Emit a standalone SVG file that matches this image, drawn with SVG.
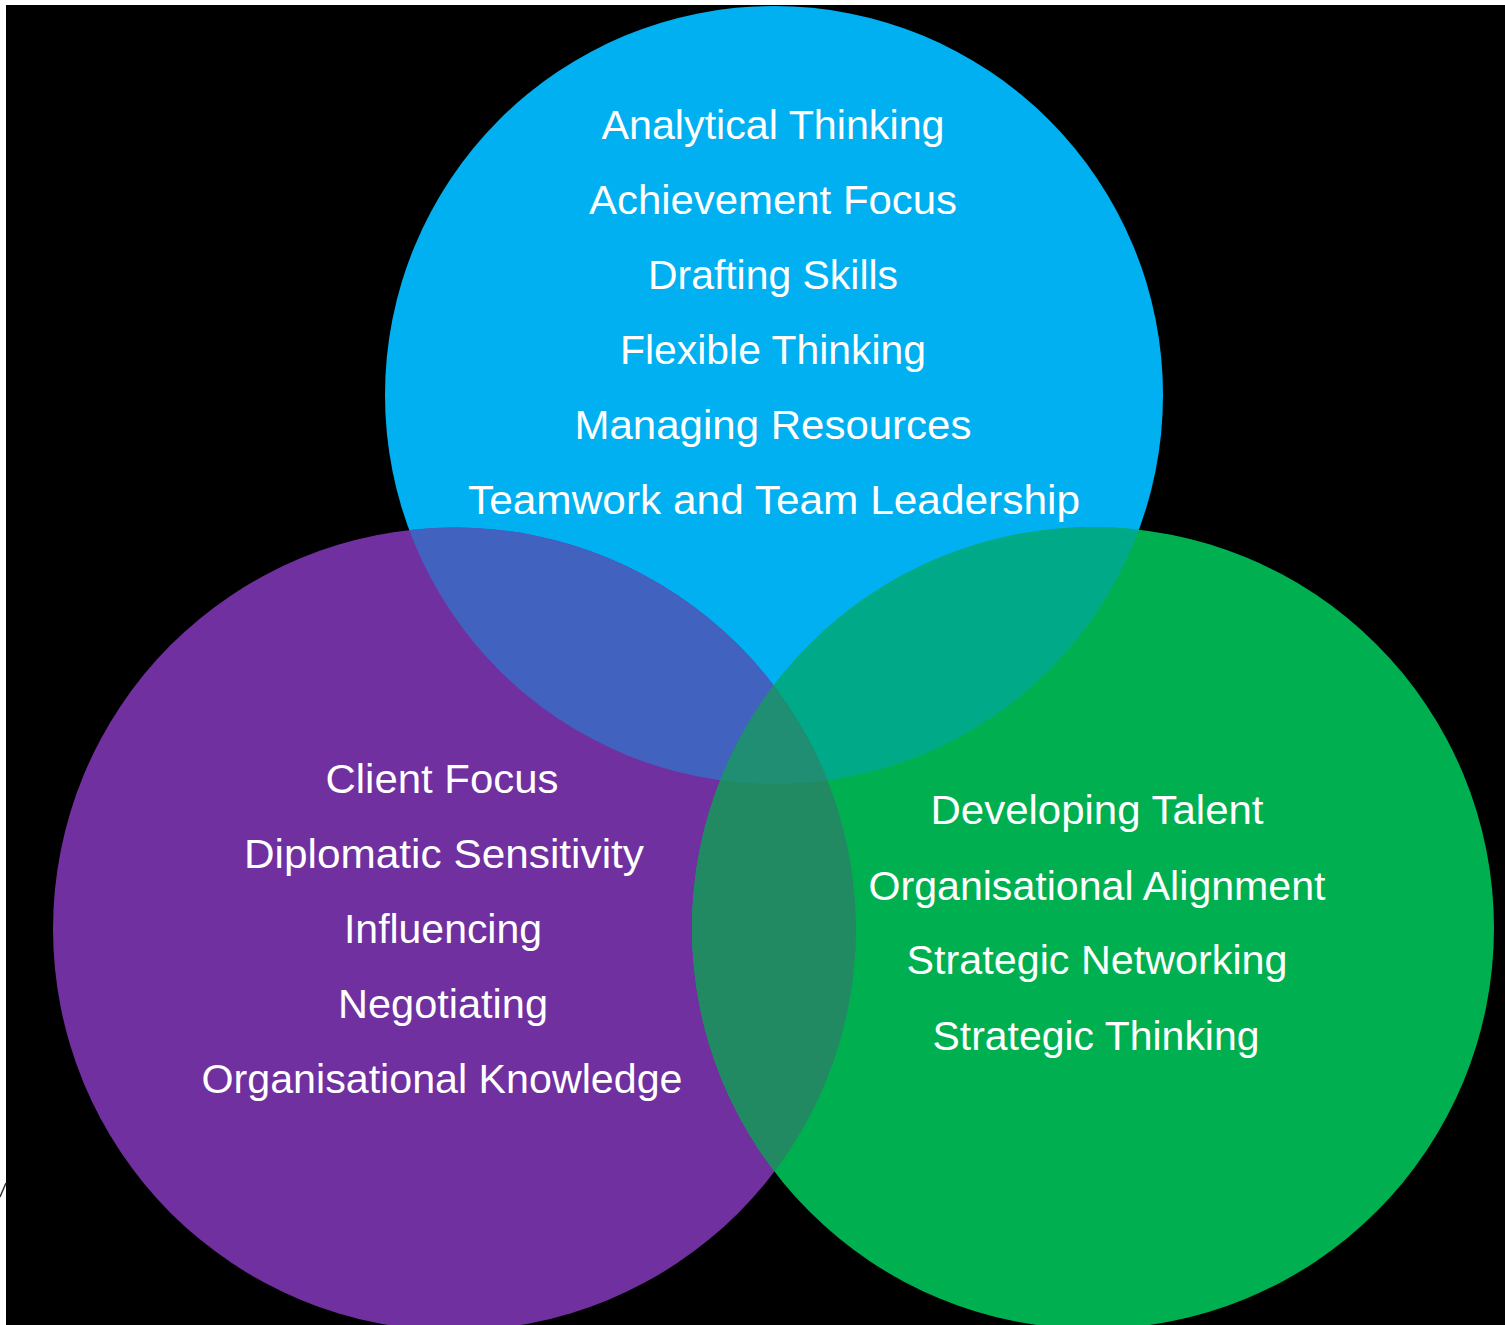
<svg xmlns="http://www.w3.org/2000/svg" width="1505" height="1325" viewBox="0 0 1505 1325">
  <style>
    .lbl { font-family: "Liberation Sans", Arial, sans-serif; font-size: 40px; fill: #ffffff; text-anchor: middle; }
  </style>
  <defs>
    <clipPath id="frame"><rect x="6" y="5" width="1499" height="1320"/></clipPath>
    <clipPath id="clipBlue"><circle cx="774" cy="395" r="389"/></clipPath>
    <clipPath id="clipPurple"><circle cx="454.5" cy="929" r="401.5"/></clipPath>
  </defs>
  <rect x="0" y="0" width="1505" height="1325" fill="#ffffff"/>
  <rect x="6" y="5" width="1499" height="1320" fill="#000000"/>
  <line x1="0" y1="1197" x2="6" y2="1183" stroke="#333333" stroke-width="1.5"/>
  <g clip-path="url(#frame)">
    <g id="circle-blue"><circle cx="774" cy="395" r="389" fill="#00B0F0"/></g>
    <g id="circle-purple"><circle cx="454.5" cy="929" r="401.5" fill="#7030A0"/></g>
    <g id="circle-green"><circle cx="1093" cy="928" r="401" fill="#00B050"/></g>
    <g id="overlaps">
      <circle cx="454.5" cy="929" r="401.5" fill="#4262C0" clip-path="url(#clipBlue)"/>
      <circle cx="1093" cy="928" r="401" fill="#00AA88" clip-path="url(#clipBlue)"/>
      <circle cx="1093" cy="928" r="401" fill="#218A62" clip-path="url(#clipPurple)"/>
      <g clip-path="url(#clipBlue)">
        <circle cx="1093" cy="928" r="401" fill="#1F8E72" clip-path="url(#clipPurple)"/>
      </g>
    </g>
  </g>
  <g id="node-blue-text">
    <text class="lbl" x="773" y="139" textLength="343" lengthAdjust="spacingAndGlyphs">Analytical Thinking</text>
    <text class="lbl" x="773" y="214" textLength="368" lengthAdjust="spacingAndGlyphs">Achievement Focus</text>
    <text class="lbl" x="773" y="289" textLength="250" lengthAdjust="spacingAndGlyphs">Drafting Skills</text>
    <text class="lbl" x="773" y="364" textLength="306" lengthAdjust="spacingAndGlyphs">Flexible Thinking</text>
    <text class="lbl" x="773" y="439" textLength="397" lengthAdjust="spacingAndGlyphs">Managing Resources</text>
    <text class="lbl" x="774" y="514" textLength="612" lengthAdjust="spacingAndGlyphs">Teamwork and Team Leadership</text>
  </g>
  <g id="node-purple-text">
    <text class="lbl" x="442" y="793" textLength="233" lengthAdjust="spacingAndGlyphs">Client Focus</text>
    <text class="lbl" x="444" y="868" textLength="400" lengthAdjust="spacingAndGlyphs">Diplomatic Sensitivity</text>
    <text class="lbl" x="443" y="943" textLength="198" lengthAdjust="spacingAndGlyphs">Influencing</text>
    <text class="lbl" x="443" y="1018" textLength="210" lengthAdjust="spacingAndGlyphs">Negotiating</text>
    <text class="lbl" x="442" y="1093" textLength="481" lengthAdjust="spacingAndGlyphs">Organisational Knowledge</text>
  </g>
  <g id="node-green-text">
    <text class="lbl" x="1097" y="824" textLength="333" lengthAdjust="spacingAndGlyphs">Developing Talent</text>
    <text class="lbl" x="1097" y="900" textLength="457" lengthAdjust="spacingAndGlyphs">Organisational Alignment</text>
    <text class="lbl" x="1097" y="974" textLength="381" lengthAdjust="spacingAndGlyphs">Strategic Networking</text>
    <text class="lbl" x="1096" y="1050" textLength="327" lengthAdjust="spacingAndGlyphs">Strategic Thinking</text>
  </g>
  <g id="connectors"></g>
</svg>
